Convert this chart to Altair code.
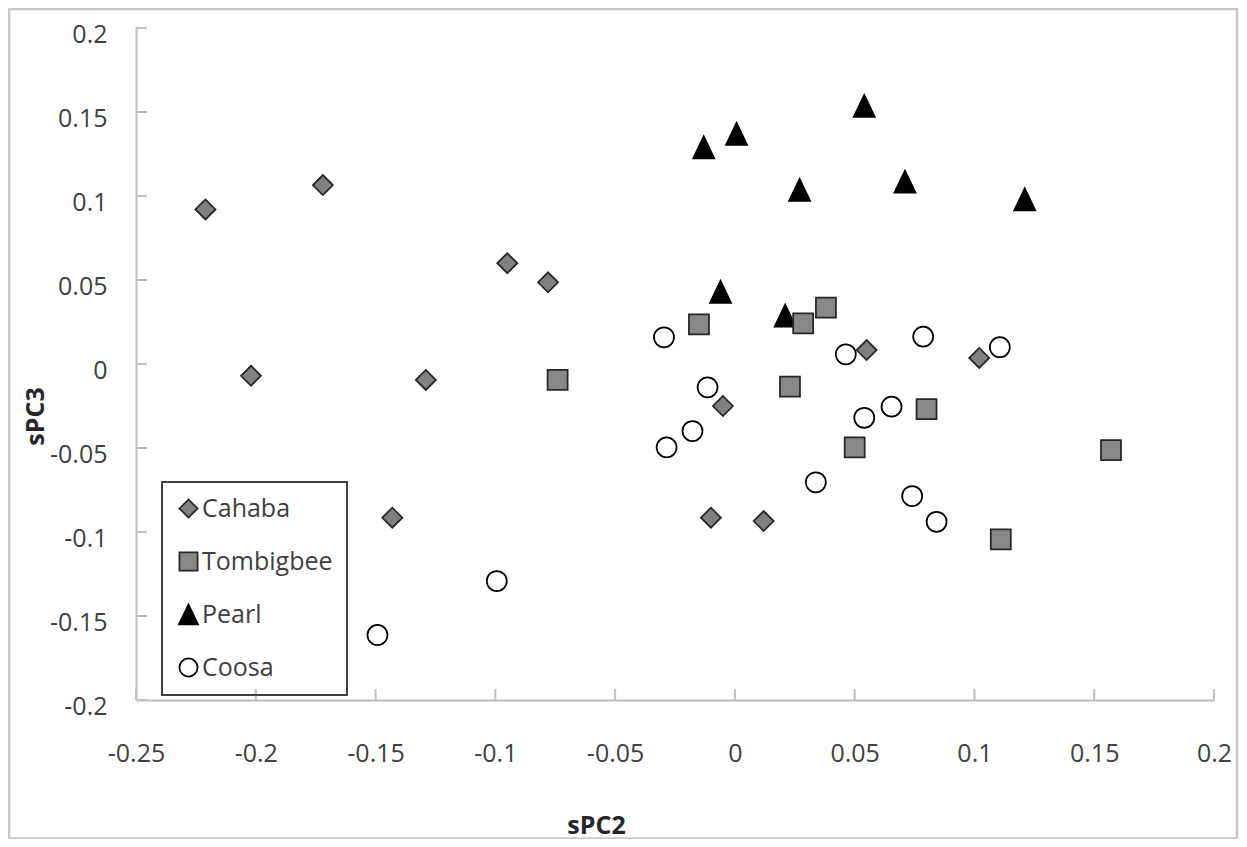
import altair as alt
import pandas as pd

series = ["Cahaba", "Tombigbee", "Pearl", "Coosa"]

cahaba_x = [-0.221, -0.172, -0.095, -0.078, -0.202, -0.129, -0.143, -0.005, -0.010, 0.012, 0.055, 0.102]
cahaba_y = [0.092, 0.1065, 0.060, 0.0486, -0.007, -0.0095, -0.0915, -0.025, -0.0915, -0.0935, 0.0083, 0.0036]

tombigbee_x = [-0.074, -0.015, 0.0285, 0.038, 0.023, 0.050, 0.080, 0.157, 0.111]
tombigbee_y = [-0.0095, 0.0236, 0.0242, 0.0335, -0.0135, -0.0496, -0.0268, -0.0512, -0.1044]

pearl_x = [-0.013, 0.0007, 0.027, 0.054, 0.071, 0.121, -0.006, 0.021]
pearl_y = [0.129, 0.137, 0.1036, 0.1536, 0.1085, 0.098, 0.043, 0.0288]

coosa_x = [-0.0296, -0.0114, -0.0177, -0.0285, 0.0338, 0.0463, 0.0786, 0.1106, 0.054, 0.0654, 0.074, 0.0842, -0.0994, -0.1492]
coosa_y = [0.0159, -0.0139, -0.0399, -0.0496, -0.0704, 0.0058, 0.0163, 0.010, -0.032, -0.0254, -0.0786, -0.0939, -0.1292, -0.1613]

x_ticks = [-0.25, -0.2, -0.15, -0.1, -0.05, 0, 0.05, 0.1, 0.15, 0.2]
y_ticks = [-0.2, -0.15, -0.1, -0.05, 0, 0.05, 0.1, 0.15, 0.2]

shapes = ["diamond", "square", "M0,-1.1L1.05,1.1L-1.05,1.1Z", "circle"]
fills = ["#808080", "#888888", "#000000", "#ffffff"]
strokes = ["#262626", "#262626", "#000000", "#000000"]

rows = []
for name, xs, ys in [("Cahaba", cahaba_x, cahaba_y), ("Pearl", pearl_x, pearl_y),
                     ("Tombigbee", tombigbee_x, tombigbee_y), ("Coosa", coosa_x, coosa_y)]:
    rows += [{"series": name, "x": a, "y": b} for a, b in zip(xs, ys)]
df = pd.DataFrame(rows)

W, H = 1078, 672
FONT = "Open Sans"
AXIS_GRAY = "#bfbfbf"
TEXT = "#404040"

xscale = alt.Scale(domain=[-0.25, 0.2], nice=False, zero=False)
yscale = alt.Scale(domain=[-0.2, 0.2], nice=False, zero=False)

xaxis = alt.Axis(values=x_ticks, labelExpr="'' + datum.value", ticks=False, grid=False,
                 domainColor=AXIS_GRAY, domainWidth=2, labelPadding=41,
                 labelFont=FONT, labelFontSize=25, labelColor=TEXT,
                 title="sPC2", titleFont=FONT, titleFontSize=25, titleFontWeight="bold",
                 titleColor="#262626", titleX=460, titleY=133, titleBaseline="alphabetic",
                 titleAlign="center", labelOverlap=False, labelFlush=False)
yaxis = alt.Axis(values=y_ticks, labelExpr="'' + datum.value", ticks=False, grid=False,
                 domainColor=AXIS_GRAY, domainWidth=2, labelPadding=29, labelOffset=6,
                 labelFont=FONT, labelFontSize=25, labelColor=TEXT,
                 title="sPC3", titleFont=FONT, titleFontSize=25, titleFontWeight="bold",
                 titleColor="#262626", titleX=-93, titleY=388, titleAngle=270,
                 titleBaseline="alphabetic", titleAlign="center", labelOverlap=False,
                 labelFlush=False)

legend = alt.Legend(title=None, orient="none", legendX=26, legendY=454,
                    strokeColor="#404040", padding=14, rowPadding=26, labelOffset=1,
                    labelFont=FONT, labelFontSize=25, labelColor=TEXT,
                    symbolSize=330, symbolStrokeWidth=1.75)

points = alt.Chart(df).mark_point(opacity=1, strokeWidth=1.75, size=400).encode(
    x=alt.X("x:Q", scale=xscale, axis=xaxis),
    y=alt.Y("y:Q", scale=yscale, axis=yaxis),
    shape=alt.Shape("series:N", scale=alt.Scale(domain=series, range=shapes), legend=legend),
    fill=alt.Fill("series:N", scale=alt.Scale(domain=series, range=fills), legend=legend),
    stroke=alt.Stroke("series:N", scale=alt.Scale(domain=series, range=strokes), legend=legend),
)

xtick_layer = alt.Chart(pd.DataFrame({"x": x_ticks})).mark_rule(
    color=AXIS_GRAY, strokeWidth=2
).encode(
    x=alt.X("x:Q", scale=xscale, axis=xaxis),
    y=alt.value(H - 11),
    y2=alt.value(H),
)

ytick_layer = alt.Chart(pd.DataFrame({"y": y_ticks})).mark_rule(
    color=AXIS_GRAY, strokeWidth=2
).encode(
    y=alt.Y("y:Q", scale=yscale, axis=yaxis),
    x=alt.value(0),
    x2=alt.value(11),
)

frame = alt.Chart(pd.DataFrame({"a": [0]})).mark_rect(
    fillOpacity=0, stroke="#c8c8c8", strokeWidth=2.5
).encode(
    x=alt.value(-127), x2=alt.value(1101), y=alt.value(-19), y2=alt.value(810.5)
)

chart = alt.layer(points, xtick_layer, ytick_layer, frame).properties(
    width=W, height=H,
    padding={"left": 128, "top": 20, "right": 25, "bottom": 139},
    autosize=alt.AutoSizeParams(type="none"),
).configure(font=FONT).configure_view(strokeWidth=0).configure_legend(strokeWidth=2)

chart.save("out.html", embed_options={"renderer": "svg", "actions": False})
